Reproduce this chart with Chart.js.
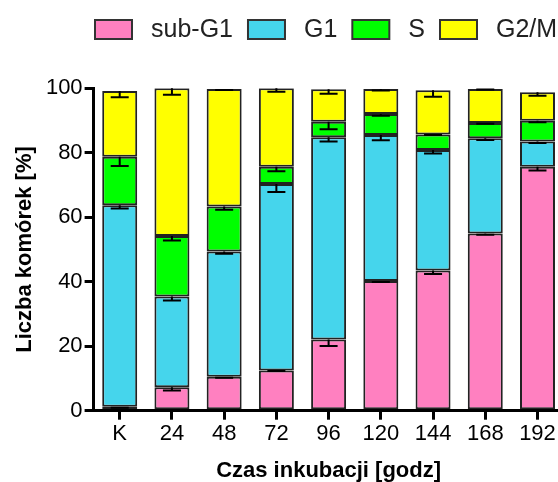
<!DOCTYPE html>
<html>
<head>
<meta charset="utf-8">
<script src="https://cdn.jsdelivr.net/npm/chart.js@4"></script>
<style>
  html, body { margin: 0; padding: 0; overflow: hidden; background: #fff; }
  canvas { display: block; }
</style>
</head>
<body>
<canvas id="c" width="566" height="482"></canvas>
<script>
// Cell-cycle phase distribution (%) per incubation time
const categories = ['K', '24', '48', '72', '96', '120', '144', '168', '192'];
const subG1 = [1.2, 7.3, 10.5, 12.5, 22.1, 40.2, 43.5, 55.0, 75.7];
const g1    = [62.5, 28.1, 38.9, 57.8, 62.7, 45.3, 37.4, 29.5, 7.8];
const sPhase = [15.1, 18.8, 13.9, 5.4, 4.8, 6.5, 4.8, 4.7, 6.4];
const g2m   = [20.4, 45.8, 36.5, 24.3, 10.1, 7.8, 13.7, 10.6, 8.9];

// Standard deviations for each phase
const subG1Err = [0.3, 1.0, 0.3, 0.2, 2.0, 0.3, 1.1, 0.4, 1.2];
const g1Err    = [1.0, 1.2, 0.7, 2.5, 1.3, 1.6, 1.1, 0.5, 0.5];
const sErr     = [2.9, 1.4, 1.0, 1.4, 2.3, 0.5, 0.2, 0.2, 0.4];
const g2mErr   = [2.0, 2.0, 0.3, 1.1, 1.4, 0.5, 2.0, 0.2, 1.1];

const seriesNames = ['sub-G1', 'G1', 'S', 'G2/M'];
const yTicks = [0, 20, 40, 60, 80, 100];

const FONT = '"Liberation Sans", Arial, sans-serif';
const colors = ['#FF80C0', '#45D5EC', '#00FF00', '#FFFF00'];

// Downward error bars from the top of each stacked segment
const errorBars = {
  id: 'errorBars',
  afterDatasetsDraw(chart) {
    const ctx = chart.ctx;
    const y = chart.scales.y;
    const totals = categories.map(() => 0);
    ctx.save();
    ctx.strokeStyle = '#000';
    ctx.lineWidth = 2;
    chart.data.datasets.forEach((ds, i) => {
      const meta = chart.getDatasetMeta(i);
      ds.data.forEach((v, j) => {
        totals[j] += v;
        const bar = meta.data[j];
        const top = y.getPixelForValue(totals[j]);
        const low = y.getPixelForValue(totals[j] - ds.errors[j]);
        ctx.beginPath();
        ctx.moveTo(bar.x, top);
        ctx.lineTo(bar.x, low);
        ctx.moveTo(bar.x - 9, low);
        ctx.lineTo(bar.x + 9, low);
        ctx.stroke();
      });
    });
    ctx.restore();
  }
};

// Single-row legend across the top
const legendRow = {
  id: 'legendRow',
  afterDraw(chart) {
    const ctx = chart.ctx;
    ctx.save();
    ctx.font = '25px ' + FONT;
    ctx.textBaseline = 'alphabetic';
    let x = 95;
    chart.data.datasets.forEach(ds => {
      ctx.fillStyle = ds.backgroundColor;
      ctx.fillRect(x, 20, 37, 19);
      ctx.lineWidth = 2;
      ctx.strokeStyle = '#333';
      ctx.strokeRect(x, 20, 37, 19);
      x += 37 + 19;
      ctx.fillStyle = '#222';
      ctx.fillText(ds.label, x, 36.5);
      x += ctx.measureText(ds.label).width + 15;
    });
    ctx.restore();
  }
};

const values = [subG1, g1, sPhase, g2m];
const errors = [subG1Err, g1Err, sErr, g2mErr];

new Chart(document.getElementById('c'), {
  type: 'bar',
  data: {
    labels: categories,
    datasets: values.map((d, i) => ({
      label: seriesNames[i],
      data: d,
      errors: errors[i],
      backgroundColor: colors[i],
      borderColor: '#222',
      borderWidth: 2,
      borderSkipped: false,
      categoryPercentage: 1,
      barPercentage: 0.67
    }))
  },
  options: {
    responsive: false,
    animation: false,
    layout: { padding: { top: 88.3, right: 2.4, left: 0, bottom: 0 } },
    plugins: {
      legend: { display: false },
      tooltip: { enabled: false }
    },
    scales: {
      x: {
        stacked: true,
        afterFit(s) { s.height = 71.3; },
        border: { display: true, color: '#000', width: 3 },
        grid: {
          display: true, drawOnChartArea: false, offset: false,
          tickLength: 9, lineWidth: 3, tickWidth: 3, tickColor: '#000', color: '#000'
        },
        ticks: { color: '#000', font: { size: 22, family: FONT }, padding: 1 },
        title: {
          display: true, text: 'Czas inkubacji [godz]', color: '#000',
          font: { size: 22, weight: 'bold', family: FONT, lineHeight: 1 },
          padding: { top: 0, bottom: 0 }
        }
      },
      y: {
        stacked: true,
        min: 0, max: 100,
        afterFit(s) { s.width = 93.6; },
        afterBuildTicks(s) { s.ticks = yTicks.map(v => ({ value: v })); },
        border: { display: true, color: '#000', width: 3 },
        grid: {
          display: true, drawOnChartArea: false,
          tickLength: 9, lineWidth: 3, tickWidth: 3, tickColor: '#000', color: '#000'
        },
        ticks: { color: '#000', font: { size: 22, family: FONT }, padding: 2 },
        title: {
          display: true, text: 'Liczba komórek [%]', color: '#000',
          font: { size: 22, weight: 'bold', family: FONT, lineHeight: 1.2 },
          padding: { top: 12, bottom: 0 }
        }
      }
    }
  },
  plugins: [errorBars, legendRow]
});
</script>
</body>
</html>
